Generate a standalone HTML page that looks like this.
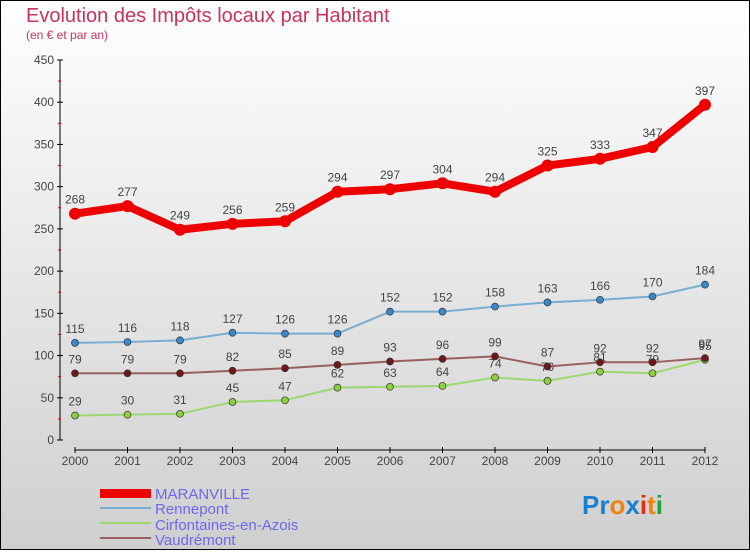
<!DOCTYPE html>
<html><head><meta charset="utf-8"><style>
body{margin:0}
#c{width:750px;height:550px;position:relative;font-family:"Liberation Sans",sans-serif}
</style></head><body>
<div id="c">
<svg id="s" width="750" height="550" xmlns="http://www.w3.org/2000/svg">
<defs><linearGradient id="bg" x1="0" y1="0" x2="0" y2="1"><stop offset="0" stop-color="#ffffff"/><stop offset="1" stop-color="#cfcfcf"/></linearGradient></defs>
<rect x="0.5" y="0.5" width="749" height="549" fill="url(#bg)" stroke="#000"/>
<text x="26" y="22" font-size="20" fill="#c8325f">Evolution des Impôts locaux par Habitant</text>
<text x="26" y="39" font-size="12" fill="#c8325f">(en € et par an)</text>
<g id="axes"></g><g id="series"></g>
<g>
<rect x="100" y="489" width="51" height="9" fill="#e00"/>
<text x="155" y="499" font-size="15" fill="#6a6af0">MARANVILLE</text>
<line x1="100" y1="508" x2="151" y2="508" stroke="#7aaed0" stroke-width="2"/>
<text x="155" y="514" font-size="15" fill="#6a6af0">Rennepont</text>
<line x1="100" y1="523" x2="151" y2="523" stroke="#9cd870" stroke-width="2"/>
<text x="155" y="530" font-size="15" fill="#6a6af0">Cirfontaines-en-Azois</text>
<line x1="100" y1="538" x2="151" y2="538" stroke="#986060" stroke-width="2"/>
<text x="155" y="545" font-size="15" fill="#6a6af0">Vaudrémont</text>
</g>
<g font-size="26" font-weight="bold">
<text x="582" y="514"><tspan fill="#1a7fd0">Pr</tspan><tspan fill="#f08010">o</tspan><tspan fill="#1a7fd0">x</tspan><tspan fill="#e03010">i</tspan><tspan fill="#f08010">t</tspan><tspan fill="#20a040">i</tspan></text>
</g>
</svg>
</div>
<script>
const years=[2000,2001,2002,2003,2004,2005,2006,2007,2008,2009,2010,2011,2012];
const maranville=[268,277,249,256,259,294,297,304,294,325,333,347,397];
const rennepont=[115,116,118,127,126,126,152,152,158,163,166,170,184];
const cirfontaines=[29,30,31,45,47,62,63,64,74,70,81,79,95];
const vaudremont=[79,79,79,82,85,89,93,96,99,87,92,92,97];
const yTicks=[0,50,100,150,200,250,300,350,400,450];
const NS="http://www.w3.org/2000/svg";
const x=i=>75+i*52.5, y=v=>440-v*380/450;
function mk(t,a,p){const e=document.createElementNS(NS,t);for(const k in a)e.setAttribute(k,a[k]);p.appendChild(e);return e;}
const ax=document.getElementById('axes');
mk('line',{x1:60,y1:60,x2:60,y2:440,stroke:'#000'},ax);
mk('line',{x1:75,y1:450,x2:705,y2:450,stroke:'#000'},ax);
yTicks.forEach(v=>{
 mk('line',{x1:57,y1:y(v),x2:63,y2:y(v),stroke:'#000'},ax);
 if(v<450)mk('line',{x1:58,y1:y(v+25),x2:61,y2:y(v+25),stroke:'#d00'},ax);
 const t=mk('text',{x:54,y:y(v)+4,'font-size':12,fill:'#444','text-anchor':'end'},ax);t.textContent=v;
 
 
});
years.forEach((yr,i)=>{
 mk('line',{x1:x(i),y1:447,x2:x(i),y2:453,stroke:'#000'},ax);
 const t=mk('text',{x:x(i),y:465,'font-size':12,fill:'#444','text-anchor':'middle'},ax);t.textContent=yr;
 
 
});
const sg=document.getElementById('series');
function draw(data,name,color,w,r,dot){
 const g=mk('g',{},sg);
 
 
 mk('polyline',{points:data.map((v,i)=>x(i)+','+y(v)).join(' '),fill:'none',stroke:color,'stroke-width':w,'stroke-linejoin':'round'},g);
 data.forEach((v,i)=>{
  const c=mk('circle',{cx:x(i),cy:y(v),r:r,fill:dot,stroke:'#333','stroke-width':r>4?0:0.7},g);
  
  
  const t=mk('text',{x:x(i),y:y(v)-10,'font-size':12,fill:'#444','text-anchor':'middle'},g);t.textContent=v;
  
  
 });
}
draw(cirfontaines,'cirfontaines','#9cd870',2,3.5,'#8ad040');
draw(vaudremont,'vaudremont','#986060',2,3.5,'#701818');
draw(rennepont,'rennepont','#7aaed0',2,3.5,'#3a88cc');
draw(maranville,'maranville','#e00',8,6,'#e00');
</script>
</body></html>
